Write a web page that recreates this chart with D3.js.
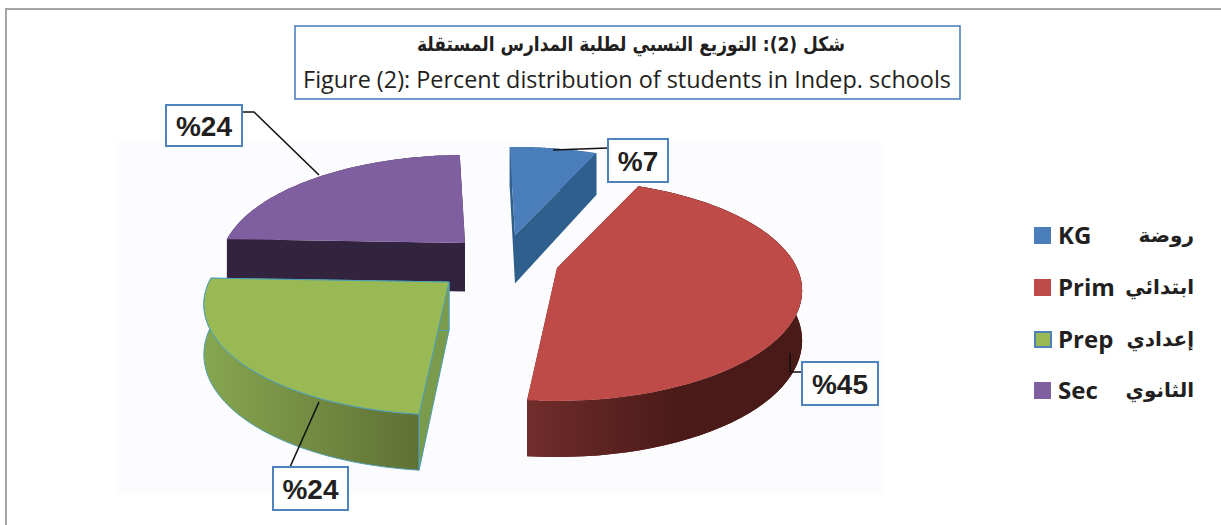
<!DOCTYPE html>
<html><head><meta charset="utf-8">
<script src="https://cdn.jsdelivr.net/npm/d3@7"></script>
<style>html,body{margin:0;padding:0;background:#fff}svg{display:block}</style>
</head><body>
<svg id="chart" width="1221" height="525"></svg>
<script>
// ---- data ----
const categories = ["KG", "Prim", "Prep", "Sec"];
const arabicNames = ["روضة", "ابتدائي", "إعدادي", "الثانوي"];
const values = [7, 45, 24, 24];
const titleArabic = "شكل (2): التوزيع النسبي لطلبة المدارس المستقلة";
const titleEnglish = "Figure (2): Percent distribution of students in Indep. schools";

// ---- style ----
const topColors = ["#4a7ebb", "#be4b48", "#98b954", "#7f5f9f"];
const cutColors = ["#2f5f8c", "#5a2220", "#7b9b4c", "#32243f"];
const wallGradients = [["#2f5f8c","#2f5f8c"], ["#702d2b","#4a1a18"], ["#86a650","#5f7034"], ["#32243f","#32243f"]];
const strokeColors = ["none", "none", "#4f9fb5", "none"];
const boxBlue = "#4f81bd";

// ---- layout: where each exploded slice's apex lands, and annotations ----
const apexX = [515, 557, 449, 465];
const apexY = [235, 268, 282, 243];
const labelBoxes = [[608,139,60,43],[802,362,76,43],[273,467,75,43],[166,105,76,41]];
const leaders = [
  [[608,148],[553,150]],
  [[802,372],[790,372],[790,353]],
  [[290,467],[319,402]],
  [[243,112],[254,112],[319,175]]
];
const legendY = [227, 279, 331, 382];

const svg = d3.select("#chart");
const defs = svg.append("defs");

// ---- frame & faint plot background ----
svg.append("rect").attr("x",115).attr("y",142).attr("width",768).attr("height",352).attr("fill","#fcfcfe");
svg.append("path").attr("d","M6,525V9H1221").attr("fill","none").attr("stroke","#a3a3a3").attr("stroke-width",2);

// ---- pie angles ----
const pie = d3.pie().sort(null).startAngle(-1.5*Math.PI/180).endAngle(358.5*Math.PI/180);
const arcs = pie(values);

// perspective projection of the unit pie disc
const spreadX = d3.scaleLinear().domain([0,1]).range([0,240]);
const spreadY = d3.scaleLinear().domain([0,1]).range([0,-105.9]);
const persp = 0.2037;
const depth = d3.scaleLinear().domain([-1,1]).range([56,41]);
function proj(a, r, i, lower){
  const X = r*Math.sin(a), Y = r*Math.cos(a), w = 1 + persp*Y;
  return [apexX[i] + spreadX(X/w), apexY[i] + spreadY(Y/w) + (lower ? depth(Y) : 0)];
}
function arcAngles(d){
  return d3.range(0, 61).map(k => d.startAngle + (d.endAngle-d.startAngle)*k/60);
}
const line = d3.line();

// paint back-to-front
const order = [3, 0, 1, 2];
order.forEach(i => {
  const d = arcs[i], g = svg.append("g").attr("class","slice-"+categories[i]);
  const angles = arcAngles(d);
  const upper = angles.map(a => proj(a,1,i,false));
  const lower = angles.map(a => proj(a,1,i,true));
  const grad = defs.append("linearGradient").attr("id","w"+i).attr("gradientUnits","userSpaceOnUse")
    .attr("x1", d3.min(upper,p=>p[0])).attr("x2", d3.max(upper,p=>p[0])).attr("y1",0).attr("y2",0);
  const gc = wallGradients[i];
  grad.append("stop").attr("offset",0).attr("stop-color",gc[0]);
  grad.append("stop").attr("offset",i===1?0.55:1).attr("stop-color",gc[1]);
  const sw = strokeColors[i], swW = sw==="none"?0:1;

  // outer wall
  g.append("path").attr("d", line(upper.concat(lower.slice().reverse()))+"Z")
    .attr("fill","url(#w"+i+")").attr("stroke",sw).attr("stroke-width",swW);
  // cut faces
  [d.startAngle, d.endAngle].forEach(a => {
    const poly = [proj(a,0,i,false),proj(a,1,i,false),proj(a,1,i,true),proj(a,0,i,true)];
    g.append("path").attr("d", line(poly)+"Z").attr("fill",cutColors[i]).attr("stroke",sw).attr("stroke-width",swW);
  });
  // re-draw the wall for the slice whose rim overlaps its cut
  if(i===1) g.append("path").attr("d", line(upper.concat(lower.slice().reverse()))+"Z").attr("fill","url(#w"+i+")");
  // top face
  g.append("path").attr("d", line([proj(0,0,i,false)].concat(upper))+"Z")
    .attr("fill",topColors[i]).attr("stroke",sw).attr("stroke-width",swW);
});

// ---- leaders & labels ----
leaders.forEach(pts => svg.append("path").attr("d",line(pts)).attr("fill","none").attr("stroke","#111").attr("stroke-width",1.6));
labelBoxes.forEach((b,i) => {
  svg.append("rect").attr("x",b[0]).attr("y",b[1]).attr("width",b[2]).attr("height",b[3])
    .attr("fill","#fff").attr("stroke",boxBlue).attr("stroke-width",2);
  svg.append("text").attr("x",b[0]+b[2]/2).attr("y",b[1]+b[3]/2+10).attr("text-anchor","middle")
    .attr("font-family","'Liberation Sans',Arial,sans-serif").attr("font-weight",700).attr("font-size",28).attr("fill","#231f20")
    .attr("direction","ltr").text("%"+values[i]);
});

// ---- title ----
svg.append("rect").attr("x",295).attr("y",26).attr("width",665).attr("height",73).attr("fill","#fff").attr("stroke",boxBlue).attr("stroke-width",1.6);
svg.append("text").attr("x",631).attr("y",51).attr("text-anchor","middle").attr("direction","rtl")
  .attr("font-family","'DejaVu Sans',sans-serif").attr("font-weight",700).attr("font-size",20)
  .attr("textLength",428).attr("lengthAdjust","spacingAndGlyphs").attr("fill","#231f20").text(titleArabic);
svg.append("text").attr("x",627).attr("y",88).attr("text-anchor","middle")
  .attr("font-family","'Open Sans',sans-serif").attr("font-size",23.4).attr("fill","#231f20").text(titleEnglish);

// ---- legend ----
categories.forEach((c,i) => {
  svg.append("rect").attr("x",i===2?1035:1034).attr("y",legendY[i]+(i===2?1:0)).attr("width",i===2?16:17).attr("height",i===2?15:17)
    .attr("fill",topColors[i]).attr("stroke",i===2?boxBlue:"none").attr("stroke-width",i===2?2:0);
  svg.append("text").attr("x",1058).attr("y",legendY[i]+17).attr("font-family","'Open Sans',sans-serif").attr("font-weight",700)
    .attr("font-size",24).attr("fill","#231f20").text(c);
  svg.append("text").attr("x",1194).attr("y",legendY[i]+15).attr("text-anchor","start").attr("direction","rtl")
    .attr("font-family","'DejaVu Sans',sans-serif").attr("font-weight",700).attr("font-size",20).attr("fill","#231f20").text(arabicNames[i]);
});
</script>
</body></html>
